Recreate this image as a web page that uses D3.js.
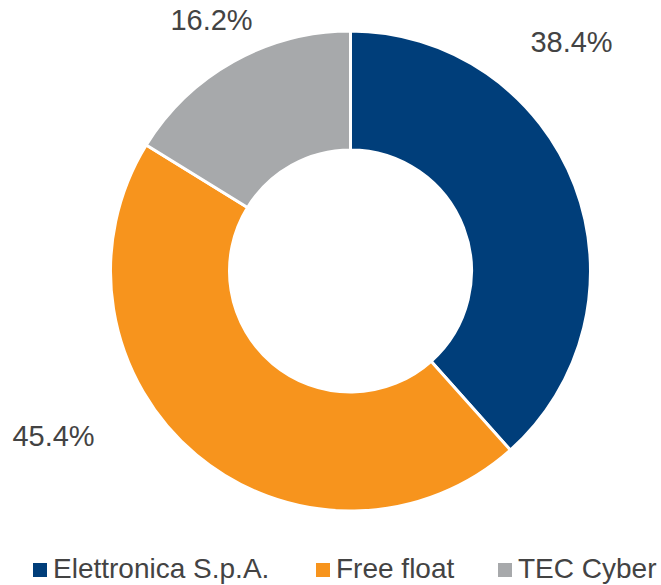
<!DOCTYPE html>
<html>
<head>
<meta charset="utf-8">
<script src="https://cdn.jsdelivr.net/npm/d3@7"></script>
<style>
  html, body { margin: 0; padding: 0; background: #fff; }
  text { font-family: "Liberation Sans", Arial, sans-serif; }
</style>
</head>
<body>
<div id="vis"></div>
<script>
// data
var categories = ['Elettronica S.p.A.', 'Free float', 'TEC Cyber'];
var shares = [38.4, 45.4, 16.2];
var colors = ['#003e7a', '#f7941d', '#a7a9ab'];

// label placement, offset of text centre/baseline from donut centre (px)
var labelOffsets = [[221, -219], [-297, 175], [-139, -241]];
// legend item left edges (px)
var legendX = [33, 316, 498];

var width = 661, height = 585;
var cx = 350.5, cy = 271;
var outerR = 240, innerR = 121;

var svg = d3.select('#vis')
    .append('svg')
        .attr('width', width)
        .attr('height', height);

var pie = d3.pie()
    .sort(null)
    .value(function(d) { return d; });

var arc = d3.arc()
    .innerRadius(innerR)
    .outerRadius(outerR);

var arcs = pie(shares);

var g = svg.append('g')
    .attr('transform', 'translate(' + cx + ',' + cy + ')');

g.selectAll('.slice')
    .data(arcs)
    .enter()
    .append('path')
        .attr('class', 'slice')
        .attr('d', arc)
        .attr('fill', function(d, i) { return colors[i]; })
        .attr('stroke', '#fff')
        .attr('stroke-width', 3)
        .attr('stroke-linejoin', 'miter');

g.selectAll('.lbl')
    .data(arcs)
    .enter()
    .append('text')
        .attr('class', 'lbl')
        .attr('x', function(d, i) { return labelOffsets[i][0]; })
        .attr('y', function(d, i) { return labelOffsets[i][1]; })
        .attr('text-anchor', 'middle')
        .attr('font-size', 29)
        .attr('fill', '#434343')
        .text(function(d) { return d3.format('.1f')(d.value) + '%'; });

// legend
var items = svg.selectAll('.legend')
    .data(categories)
    .enter()
    .append('g')
        .attr('class', 'legend')
        .attr('transform', function(d, i) { return 'translate(' + legendX[i] + ',578)'; });

items.append('rect')
    .attr('x', 0)
    .attr('y', -15)
    .attr('width', 14)
    .attr('height', 14)
    .attr('fill', function(d, i) { return colors[i]; });

items.append('text')
    .attr('x', 20)
    .attr('y', 0)
    .attr('font-size', 28)
    .attr('fill', '#434343')
    .text(function(d) { return d; });
</script>
</body>
</html>
